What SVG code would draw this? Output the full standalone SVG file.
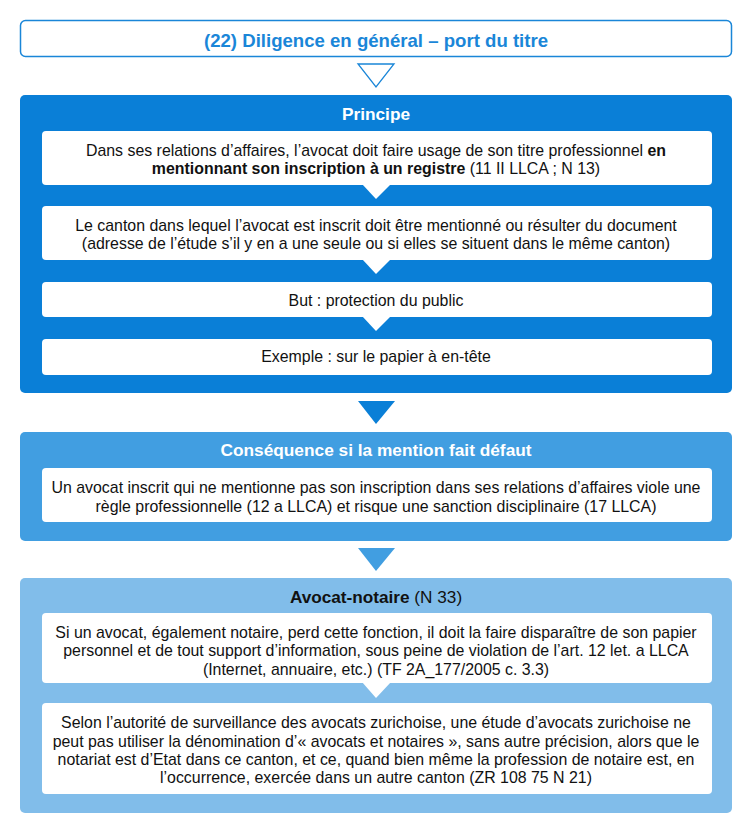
<svg xmlns="http://www.w3.org/2000/svg" width="752" height="833" viewBox="0 0 752 833">
<style>
text{font-family:"Liberation Sans",Arial,sans-serif;font-size:15.9px;fill:#111;text-anchor:middle}
.h{font-weight:bold;font-size:17.3px;fill:#fff}
.b{font-weight:bold}
.inner{fill:#fff}
.dark{fill:#0a7fd7}
.mid{fill:#419ee1}
.light{fill:#81bdea}
</style>
<rect width="752" height="833" fill="#fff"/>
<g id="title">
<rect x="20.5" y="20.5" width="711" height="36" rx="5" fill="#fff" stroke="#1a86d8" stroke-width="1.5"/>
<text x="376" y="46.5" style="font-weight:bold;font-size:18.6px;fill:#1a86d8">(22) Diligence en général – port du titre</text>
</g>
<g id="connectors">
<polygon points="358,64 394,64 376,87" fill="#fff" stroke="#1a86d8" stroke-width="1.3"/>
<polygon class="dark" points="358,401 395,401 376,424"/>
<polygon class="mid" points="358,548 395,548 376,571"/>
</g>
<g id="principe">
<rect class="dark" x="20" y="95" width="712" height="298" rx="5"/>
<text class="h" x="376" y="119.5">Principe</text>
<g id="p1">
<rect class="inner" x="42" y="131" width="670" height="54" rx="4"/>
<polygon class="inner" points="362,184 391,184 376,199"/>
<text x="376" y="156.3">Dans ses relations d’affaires, l’avocat doit faire usage de son titre professionnel <tspan class="b">en</tspan></text>
<text x="376" y="174">
<tspan class="b">mentionnant son inscription à un registre</tspan> (11 II LLCA ; N 13)</text>
</g>
<g id="p2">
<rect class="inner" x="42" y="206" width="670" height="54" rx="4"/>
<polygon class="inner" points="362,259 391,259 376,274"/>
<text x="376" y="230.6">Le canton dans lequel l’avocat est inscrit doit être mentionné ou résulter du document</text>
<text x="376" y="248.6">(adresse de l’étude s’il y en a une seule ou si elles se situent dans le même canton)</text>
</g>
<g id="p3">
<rect class="inner" x="42" y="282" width="670" height="35" rx="4"/>
<polygon class="inner" points="362,316 391,316 376,331"/>
<text x="376" y="305.6">But : protection du public</text>
</g>
<g id="p4">
<rect class="inner" x="42" y="339" width="670" height="36" rx="4"/>
<text x="376" y="362.3">Exemple : sur le papier à en-tête</text>
</g>
</g>
<g id="consequence">
<rect class="mid" x="20" y="432" width="712" height="109" rx="5"/>
<text class="h" x="376" y="456">Conséquence si la mention fait défaut</text>
<g id="c1">
<rect class="inner" x="42" y="468" width="670" height="54" rx="4"/>
<text x="376" y="492.6">Un avocat inscrit qui ne mentionne pas son inscription dans ses relations d’affaires viole une</text>
<text x="376" y="511.6">règle professionnelle (12 a LLCA) et risque une sanction disciplinaire (17 LLCA)</text>
</g>
</g>
<g id="avocat-notaire">
<rect class="light" x="20" y="578" width="712" height="235" rx="5"/>
<text x="376" y="603" style="font-size:17.2px"><tspan class="b">Avocat-notaire</tspan> (N 33)</text>
<g id="a1">
<rect class="inner" x="42" y="613" width="670" height="70" rx="4"/>
<polygon class="inner" points="362,682 391,682 376,698"/>
<text x="376" y="637.6">Si un avocat, également notaire, perd cette fonction, il doit la faire disparaître de son papier</text>
<text x="376" y="656.3">personnel et de tout support d’information, sous peine de violation de l’art. 12 let. a LLCA</text>
<text x="376" y="674.6">(Internet, annuaire, etc.) (TF 2A_177/2005 c. 3.3)</text>
</g>
<g id="a2">
<rect class="inner" x="42" y="703" width="670" height="91" rx="4"/>
<text x="376" y="728.3">Selon l’autorité de surveillance des avocats zurichoise, une étude d’avocats zurichoise ne</text>
<text x="376" y="746.6">peut pas utiliser la dénomination d’« avocats et notaires », sans autre précision, alors que le</text>
<text x="376" y="764.6">notariat est d’Etat dans ce canton, et ce, quand bien même la profession de notaire est, en</text>
<text x="376" y="782.6">l’occurrence, exercée dans un autre canton (ZR 108 75 N 21)</text>
</g>
</g>
</svg>
